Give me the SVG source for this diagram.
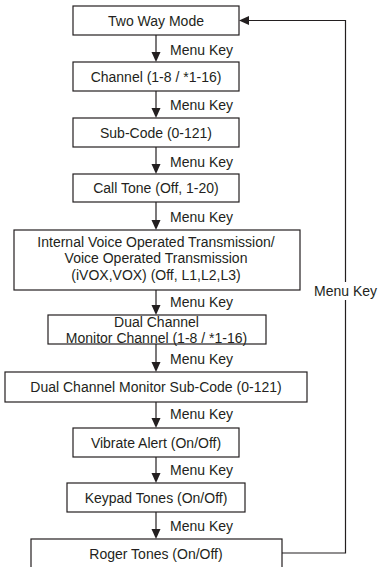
<svg xmlns="http://www.w3.org/2000/svg" width="379" height="567" viewBox="0 0 379 567">
<style>
.box{fill:#fff;stroke:#231f20;stroke-width:1.2}
.t{font-family:"Liberation Sans",Arial,sans-serif;font-size:14px;fill:#231f20;text-anchor:middle}
.lbl{font-family:"Liberation Sans",Arial,sans-serif;font-size:14px;fill:#231f20}
.ln{fill:none;stroke:#231f20;stroke-width:1.2}
.ah{fill:#231f20}
</style>
<rect width="379" height="567" fill="#fff"/>
<g id="connectors">
<line class="ln" x1="156" y1="35" x2="156" y2="53"/><polygon class="ah" points="156,62 151.5,52 160.5,52"/><text class="lbl" x="170" y="54.5">Menu Key</text>
<line class="ln" x1="156" y1="91" x2="156" y2="109"/><polygon class="ah" points="156,118 151.5,108 160.5,108"/><text class="lbl" x="170" y="110">Menu Key</text>
<line class="ln" x1="156" y1="147" x2="156" y2="165"/><polygon class="ah" points="156,174 151.5,164 160.5,164"/><text class="lbl" x="170" y="166.5">Menu Key</text>
<line class="ln" x1="156" y1="202" x2="156" y2="221"/><polygon class="ah" points="156,230 151.5,220 160.5,220"/><text class="lbl" x="170" y="222">Menu Key</text>
<line class="ln" x1="156" y1="290" x2="156" y2="306"/><polygon class="ah" points="156,315 151.5,305 160.5,305"/><text class="lbl" x="170" y="307">Menu Key</text>
<line class="ln" x1="156" y1="344" x2="156" y2="363"/><polygon class="ah" points="156,372 151.5,362 160.5,362"/><text class="lbl" x="170" y="363.5">Menu Key</text>
<line class="ln" x1="156" y1="402" x2="156" y2="419"/><polygon class="ah" points="156,428 151.5,418 160.5,418"/><text class="lbl" x="170" y="419">Menu Key</text>
<line class="ln" x1="156" y1="457" x2="156" y2="474"/><polygon class="ah" points="156,483 151.5,473 160.5,473"/><text class="lbl" x="170" y="474.5">Menu Key</text>
<line class="ln" x1="156" y1="512" x2="156" y2="530"/><polygon class="ah" points="156,539 151.5,529 160.5,529"/><text class="lbl" x="170" y="530.5">Menu Key</text>
<polyline class="ln" points="282,553 345.5,553 345.5,20.5 248,20.5"/>
<polygon class="ah" points="239,20.5 249,16 249,25"/>
<rect x="313" y="282" width="65" height="18" fill="#fff"/>
<text class="t" x="345.5" y="296">Menu Key</text>
</g>
<g id="n1"><rect class="box" x="73" y="6" width="166" height="29"/><text class="t" x="156" y="25.5">Two Way Mode</text></g>
<g id="n2"><rect class="box" x="73" y="62" width="166" height="29"/><text class="t" x="156" y="81.5">Channel (1-8 / *1-16)</text></g>
<g id="n3"><rect class="box" x="73" y="118" width="166" height="29"/><text class="t" x="156" y="137.5">Sub-Code (0-121)</text></g>
<g id="n4"><rect class="box" x="73" y="174" width="166" height="28"/><text class="t" x="156" y="193">Call Tone (Off, 1-20)</text></g>
<g id="n5"><rect class="box" x="14" y="230" width="286" height="60"/>
<text class="t" x="156" y="246.5">Internal Voice Operated Transmission/</text>
<text class="t" x="156" y="263">Voice Operated Transmission</text>
<text class="t" x="156" y="279.5">(iVOX,VOX) (Off, L1,L2,L3)</text></g>
<g id="n6"><rect class="box" x="48" y="315" width="218" height="29"/>
<text class="t" x="156.5" y="326.5">Dual Channel</text>
<text class="t" x="156.5" y="343">Monitor Channel (1-8 / *1-16)</text></g>
<g id="n7"><rect class="box" x="5" y="372" width="302" height="30"/><text class="t" x="156" y="392">Dual Channel Monitor Sub-Code (0-121)</text></g>
<g id="n8"><rect class="box" x="73" y="428" width="166" height="29"/><text class="t" x="156" y="447.5">Vibrate Alert (On/Off)</text></g>
<g id="n9"><rect class="box" x="67" y="483" width="178" height="29"/><text class="t" x="156" y="502.5">Keypad Tones (On/Off)</text></g>
<g id="n10"><rect class="box" x="31" y="539" width="251" height="40"/><text class="t" x="156" y="559">Roger Tones (On/Off)</text></g>
</svg>
